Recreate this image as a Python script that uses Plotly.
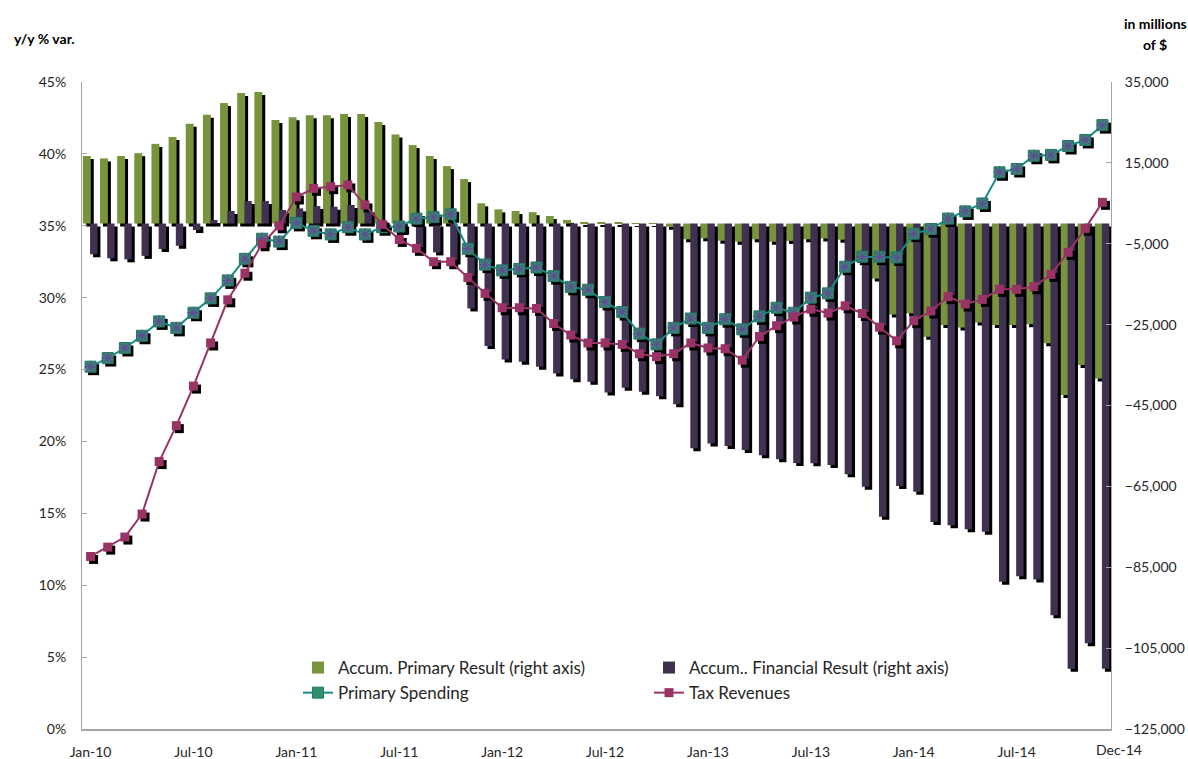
import plotly.graph_objects as go

# ---- data: monthly, Jan-10 .. Dec-14 ----
n_months = 60
tick_labels = ["Jan-10", "Jul-10", "Jan-11", "Jul-11", "Jan-12", "Jul-12",
               "Jan-13", "Jul-13", "Jan-14", "Jul-14"]
last_label = "Dec-14"

# Accumulated primary result, millions of $ (right axis)
primary_result = [
    16700, 16100, 16700, 17400, 19700, 21400, 24700, 26900, 29800, 32300,
    32500, 25600, 26300, 26800, 26800, 27100, 27100, 25100, 22000, 19400,
    16700, 14200, 11000, 5000, 3500, 3100, 2800, 1850, 900, 400,
    250, 150, 100, 80, -800, -3900, -3650, -4250, -4500, -3900,
    -4500, -4300, -3900, -3700, -4000, -9000, -13600, -22500, -22200, -28000,
    -25100, -25700, -24500, -25100, -25100, -24900, -29600, -42400, -35000, -38300,
]

# Accumulated financial result, millions of $ (right axis)
financial_result = [
    -7600, -8600, -8850, -8000, -6300, -5500, -1600, 870, 3100, 5560,
    5560, 3340, 3750, 4330, 4160, 4580, 3500, -1000, -2000, -6750,
    -7150, -9400, -21000, -30300, -33600, -34200, -35400, -37100, -38500, -39100,
    -41800, -40600, -41600, -42700, -44700, -55600, -54400, -55000, -56000, -57300,
    -58300, -59200, -59300, -59700, -62000, -65100, -72500, -64900, -66300, -73800,
    -74600, -75600, -76200, -88600, -87200, -88000, -96900, -110100, -103800, -110100,
]

# Primary spending, y/y % change (left axis)
primary_spending = [
    25.2, 25.8, 26.5, 27.35, 28.35, 27.9, 28.95, 29.95, 31.2, 32.7,
    34.1, 33.9, 35.2, 34.65, 34.4, 34.9, 34.4, 34.9, 34.95, 35.5,
    35.6, 35.8, 33.4, 32.3, 31.9, 32.0, 32.1, 31.5, 30.75, 30.55,
    29.7, 29.0, 27.5, 26.75, 27.9, 28.55, 27.9, 28.5, 27.8, 28.7,
    29.3, 28.95, 30.0, 30.3, 32.15, 32.85, 32.85, 32.8, 34.45, 34.77,
    35.5, 36.0, 36.55, 38.72, 38.95, 39.87, 39.93, 40.55, 40.97, 42.0,
]

# Tax revenues, y/y % change (left axis)
tax_revenues = [
    12.0, 12.65, 13.35, 14.95, 18.6, 21.1, 23.85, 26.85, 29.85, 31.7,
    33.75, 35.0, 37.0, 37.6, 37.72, 37.84, 36.45, 35.1, 34.05, 33.43,
    32.5, 32.5, 31.4, 30.3, 29.3, 29.3, 29.25, 28.2, 27.4, 26.85,
    26.85, 26.75, 26.1, 25.9, 26.1, 26.85, 26.5, 26.45, 25.65, 27.3,
    28.05, 28.65, 29.2, 28.93, 29.43, 28.9, 27.95, 27.0, 28.4, 29.07,
    30.07, 29.56, 29.88, 30.58, 30.58, 30.76, 31.62, 33.15, 34.82, 36.63,
]

# ---- geometry of the plotting area (pixels) ----
W_FIG, H_FIG = 1188, 759
L, R, T, B = 82, 1111, 82, 729
PW, PH = R - L, B - T

PCT_RANGE = [0, 45]
USD_RANGE = [-125000, 35000]

# drop-shadow offset (3 px right / 3 px down) expressed in data units
SH_PX = 3
sh_x = SH_PX * n_months / PW
sh_usd = SH_PX * (USD_RANGE[1] - USD_RANGE[0]) / PH
sh_pct = SH_PX * (PCT_RANGE[1] - PCT_RANGE[0]) / PH


def px_x(p):
    return (p - L) / PW


def px_y(p):
    return (B - p) / PH


idx = list(range(n_months))
idx_sh = [i + sh_x for i in idx]

FONT = "Lato, 'Liberation Sans', Arial, sans-serif"
TXT = "#262626"
AXIS_GREY = "#A6A6A6"

GREEN = "#77933C"
PURPLE = "#403151"
TEAL = "#138C88"
TEAL_MK = "#2F9070"
STAR = "#5E4F91"
MAROON = "#993366"

G_OFF, G_W = -0.45, 0.46
P_OFF, P_W = -0.03, 0.43

fig = go.Figure()

# bars (right axis, $)
fig.add_trace(go.Bar(x=idx, y=primary_result, base=-sh_usd, offset=G_OFF + sh_x, width=G_W,
                     marker=dict(color="black", line_width=0), yaxis="y",
                     showlegend=False, hoverinfo="skip"))
fig.add_trace(go.Bar(x=idx, y=primary_result, offset=G_OFF, width=G_W,
                     marker=dict(color=GREEN, line_width=0), yaxis="y",
                     name="Accum. Primary Result (right axis)"))
fig.add_trace(go.Bar(x=idx, y=financial_result, base=-sh_usd, offset=P_OFF + sh_x, width=P_W,
                     marker=dict(color="black", line_width=0), yaxis="y",
                     showlegend=False, hoverinfo="skip"))
fig.add_trace(go.Bar(x=idx, y=financial_result, offset=P_OFF, width=P_W,
                     marker=dict(color=PURPLE, line_width=0), yaxis="y",
                     name="Accum.. Financial Result (right axis)"))

# primary spending line (left axis, %)
fig.add_trace(go.Scatter(x=idx_sh, y=[v - sh_pct for v in primary_spending], mode="markers",
                         marker=dict(symbol="square", size=11, color="black", line_width=0),
                         yaxis="y2", showlegend=False, hoverinfo="skip"))
fig.add_trace(go.Scatter(x=idx, y=primary_spending, mode="lines+markers",
                         line=dict(color=TEAL, width=2),
                         marker=dict(symbol="square", size=11, color=TEAL_MK,
                                     line=dict(color="#1F7A5E", width=1)),
                         yaxis="y2", name="Primary Spending", legendgroup="ps"))
fig.add_trace(go.Scatter(x=idx, y=primary_spending, mode="markers",
                         marker=dict(symbol="asterisk-open", size=10, color=STAR,
                                     line=dict(color=STAR, width=1.4)),
                         yaxis="y2", showlegend=False, legendgroup="ps", hoverinfo="skip"))

# tax revenues line (left axis, %)
fig.add_trace(go.Scatter(x=idx_sh, y=[v - sh_pct for v in tax_revenues], mode="markers",
                         marker=dict(symbol="square", size=9, color="black", line_width=0),
                         yaxis="y2", showlegend=False, hoverinfo="skip"))
fig.add_trace(go.Scatter(x=idx, y=tax_revenues, mode="lines+markers",
                         line=dict(color=MAROON, width=2),
                         marker=dict(symbol="square", size=9, color=MAROON, line_width=0),
                         yaxis="y2", name="Tax Revenues"))

usd_ticks = list(range(USD_RANGE[0], USD_RANGE[1] + 1, 20000))

fig.update_layout(
    width=W_FIG, height=H_FIG,
    margin=dict(l=L, r=W_FIG - R, t=T, b=H_FIG - B, autoexpand=False),
    paper_bgcolor="white", plot_bgcolor="white",
    font=dict(family=FONT, size=14, color=TXT),
    barmode="overlay",
    xaxis=dict(range=[-0.5, n_months - 0.5], tickvals=list(range(0, 55, 6)),
               ticktext=tick_labels, showgrid=False, zeroline=False,
               showline=True, linecolor=AXIS_GREY, linewidth=2, ticks="",
               tickfont=dict(size=14, color=TXT), ticklabelstandoff=9),
    yaxis=dict(side="right", range=USD_RANGE, tickvals=usd_ticks, tickformat=",",
               showgrid=False, zeroline=False, showline=True, linecolor=AXIS_GREY,
               linewidth=1, ticks="inside", ticklen=5, tickcolor=AXIS_GREY,
               tickfont=dict(size=14, color=TXT), ticklabelstandoff=10),
    yaxis2=dict(overlaying="y", side="left", range=PCT_RANGE, dtick=5, ticksuffix="%",
                showgrid=False, zeroline=False, showline=True, linecolor=AXIS_GREY,
                linewidth=1, ticks="inside", ticklen=5, tickcolor=AXIS_GREY,
                tickfont=dict(size=14, color=TXT), ticklabelstandoff=12),
    legend=dict(orientation="h", x=px_x(298), y=px_y(650), xanchor="left", yanchor="top",
                entrywidth=306, entrywidthmode="pixels", bgcolor="rgba(0,0,0,0)",
                font=dict(size=17, color=TXT), traceorder="normal"),
    showlegend=True,
)

annos = [
    dict(text="<b>y/y % var.</b>", x=px_x(12), y=px_y(38), xanchor="left", yanchor="middle",
         font=dict(size=14, color="black")),
    dict(text="<b>in millions</b>", x=px_x(1155), y=px_y(23), xanchor="center", yanchor="middle",
         font=dict(size=14, color="black")),
    dict(text="<b>of $</b>", x=px_x(1155), y=px_y(45), xanchor="center", yanchor="middle",
         font=dict(size=14, color="black")),
    dict(text=last_label, x=px_x(1119), y=px_y(749), xanchor="center", yanchor="middle",
         font=dict(size=14, color=TXT)),
]
for a in annos:
    a.update(xref="paper", yref="paper", showarrow=False)
fig.update_layout(annotations=annos)

fig.write_html("out.html")
